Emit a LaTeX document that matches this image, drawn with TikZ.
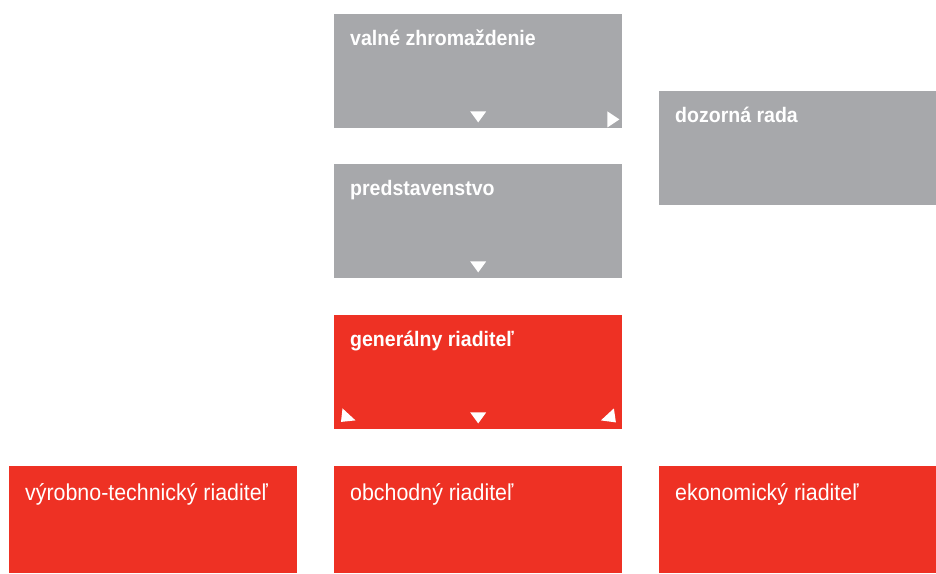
\documentclass[tikz,border=0pt]{standalone}
\usepackage{fontspec}
\setmainfont{Liberation Sans}[FakeStretch=0.93]
\definecolor{OrgGray}{HTML}{A7A8AB}
\definecolor{OrgRed}{HTML}{EE3124}
\begin{document}
\begin{tikzpicture}[x=1pt,y=-1pt,
	orgbox/.style={rectangle,anchor=north west,inner sep=0pt,minimum width=288pt,minimum height=114pt},
	graybox/.style={orgbox,fill=OrgGray},
	redbox/.style={orgbox,fill=OrgRed},
	boxtitle/.style={anchor=base west,inner sep=0pt,text=white,font=\fontsize{21}{25}\selectfont\bfseries,xshift=16pt,yshift=-31pt},
	boxtext/.style={anchor=base west,inner sep=0pt,text=white,font=\fontsize{23}{27}\selectfont,xshift=16pt,yshift=-34pt},
	tip/.style={fill=white}]
\useasboundingbox (0,0) rectangle (936,573);

% top of the chart
\node[graybox,label={[boxtitle]north west:valné zhromaždenie}] (vz) at (334,14) {};
\node[graybox,minimum width=277pt,label={[boxtitle]north west:dozorná rada}] (dr) at (659,91) {};
\node[graybox,label={[boxtitle]north west:predstavenstvo}] (ps) at (334,164) {};
\node[redbox,label={[boxtitle]north west:generálny riaditeľ}] (gr) at (334,315) {};

% the three directors
\node[redbox,minimum height=107pt,label={[boxtext]north west:výrobno-technický riaditeľ}] (vtr) at (9,466) {};
\node[redbox,minimum height=107pt,label={[boxtext]north west:obchodný riaditeľ}] (or) at (334,466) {};
\node[redbox,minimum width=277pt,minimum height=107pt,label={[boxtext]north west:ekonomický riaditeľ}] (er) at (659,466) {};

% small white markers
\foreach \b in {vz,ps,gr}
	{
	\fill[tip] ([shift={(-8,-17)}]\b.south) -- ([shift={(8,-17)}]\b.south) -- ([shift={(0,-6)}]\b.south) -- cycle;
	}
\fill[tip] ([shift={(-15,-17)}]vz.south east) -- ([shift={(-15,-1)}]vz.south east) -- ([shift={(-3,-9)}]vz.south east) -- cycle;
\fill[tip] ([shift={(8.5,-21)}]gr.south west) -- ([shift={(21.5,-9)}]gr.south west) -- ([shift={(7,-7.5)}]gr.south west) -- cycle;
\fill[tip] ([shift={(-8.5,-21)}]gr.south east) -- ([shift={(-21.5,-9)}]gr.south east) -- ([shift={(-6.5,-7)}]gr.south east) -- cycle;

\end{tikzpicture}
\end{document}
